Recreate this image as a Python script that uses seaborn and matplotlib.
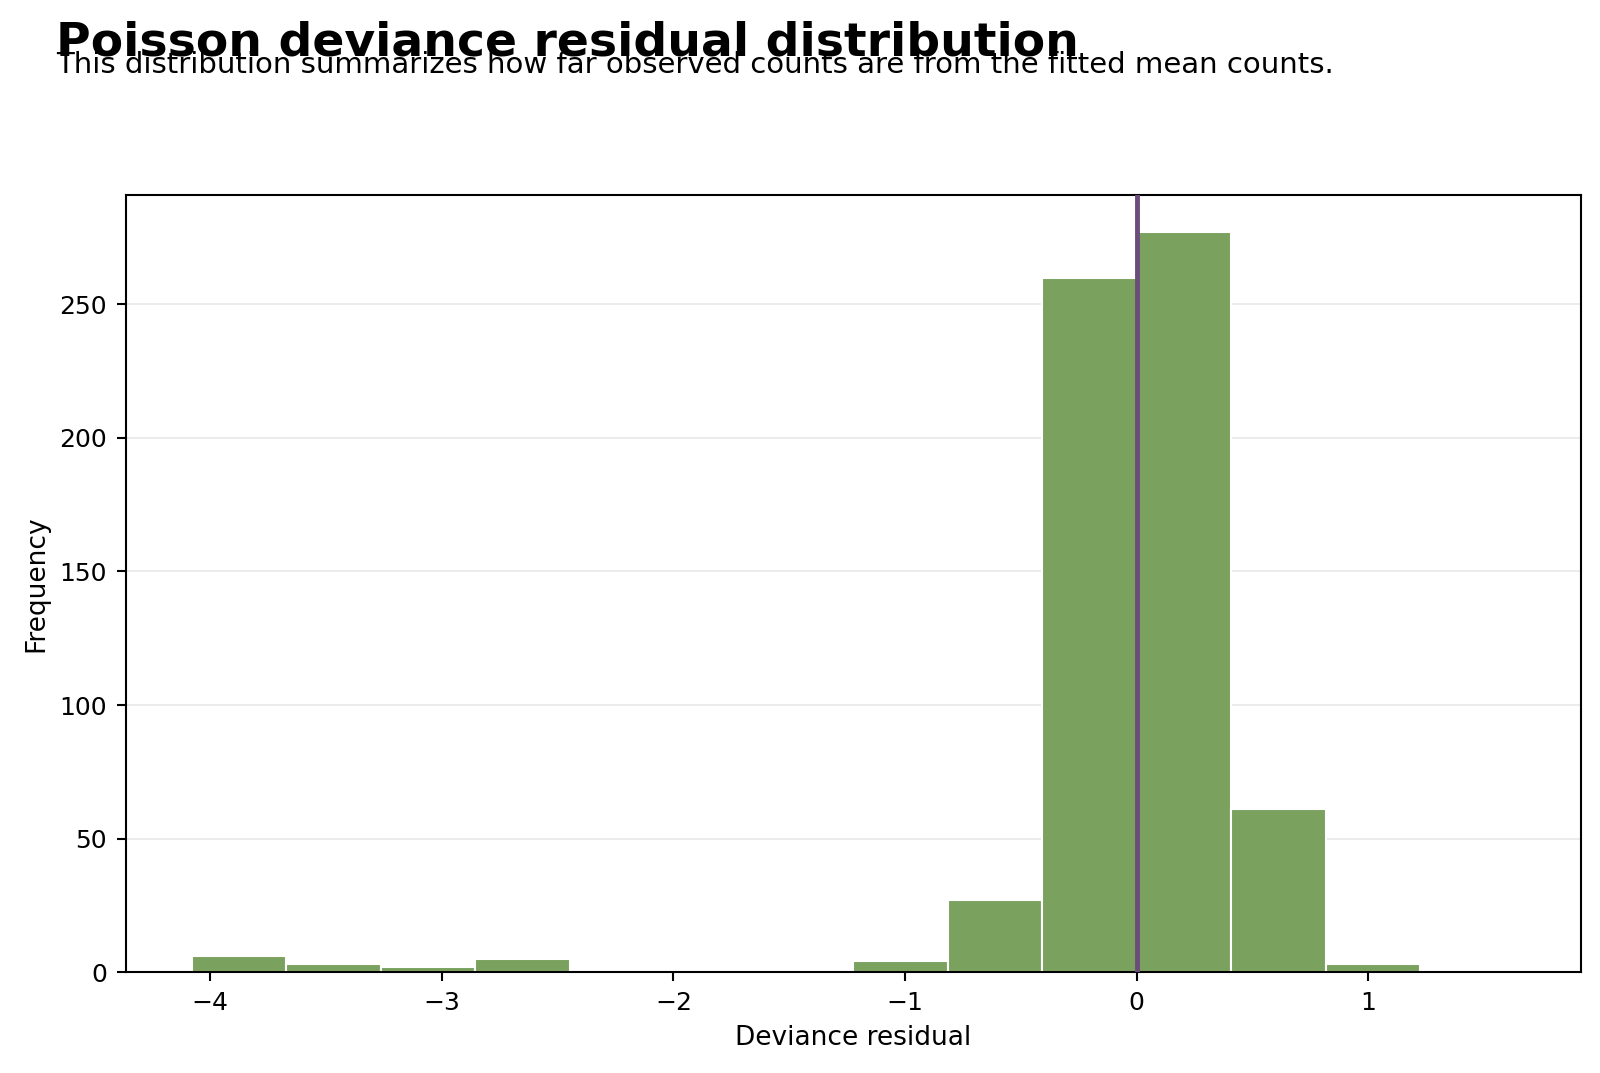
import numpy as np
import pandas as pd
import matplotlib
matplotlib.use("Agg")
import matplotlib.pyplot as plt
import seaborn as sns

# Histogram bins (deviance residual) and counts
bin_edges = [-4.08, -3.672, -3.264, -2.856, -2.448, -2.04, -1.632, -1.224,
             -0.816, -0.408, 0.0, 0.408, 0.816, 1.224, 1.632]
counts = [6, 3, 2, 5, 0, 0, 0, 4, 27, 260, 277, 61, 3, 0]

centers = [(a + b) / 2 for a, b in zip(bin_edges[:-1], bin_edges[1:])]
df = pd.DataFrame({"residual": centers, "count": counts})

sns.set_style("ticks")
plt.rcParams["font.family"] = ["DejaVu Sans"]
plt.rcParams["text.color"] = "black"
plt.rcParams["axes.labelcolor"] = "black"
plt.rcParams["xtick.color"] = "black"
plt.rcParams["ytick.color"] = "black"

fig = plt.figure(figsize=(16, 10.73), dpi=100)
ax = fig.add_axes([0.0785, 0.094, 0.9095, 0.724])

sns.histplot(data=df, x="residual", weights="count", bins=bin_edges,
             color="#7aa15e", alpha=1.0, edgecolor="white", linewidth=1.5, ax=ax)
ax.axvline(0, color="#6b4c7a", linewidth=3.5, zorder=5)

ax.set_xlabel("Deviance residual", fontsize=19, labelpad=7)
ax.set_ylabel("Frequency", fontsize=19, labelpad=7)
ax.tick_params(labelsize=18, length=6.5, width=1.5, pad=7)
ax.grid(axis="y", color="#e8e8e8", linewidth=1.2)
ax.set_axisbelow(True)
for s in ax.spines.values():
    s.set_visible(True)
    s.set_color("black")
    s.set_linewidth(1.5)

fig.text(0.035, 0.948, "Poisson deviance residual distribution",
         fontsize=34, fontweight="bold", ha="left", va="baseline")
fig.text(0.035, 0.932, "This distribution summarizes how far observed counts are from the fitted mean counts.",
         fontsize=21, ha="left", va="baseline")

fig.savefig("out.png", dpi=100)
